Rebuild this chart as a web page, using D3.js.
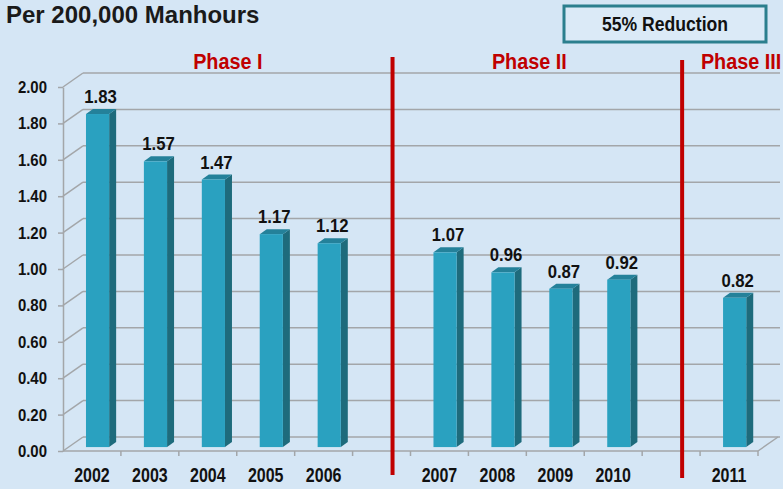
<!DOCTYPE html>
<html>
<head>
<meta charset="utf-8">
<script src="https://cdn.jsdelivr.net/npm/d3@7"></script>
<style>
  body { margin: 0; background: #d5e6f5; }
  svg { display: block; }
  .wide { font-family: "Liberation Sans", Arial, sans-serif; font-weight: bold; }
</style>
</head>
<body>
<div id="chart"></div>
<script>
// categories incl. two empty slots that separate the phases
const categories = ["2002", "2003", "2004", "2005", "2006", "gap1", "2007", "2008", "2009", "2010", "gap2", "2011"];
const values = [1.83, 1.57, 1.47, 1.17, 1.12, null, 1.07, 0.96, 0.87, 0.92, null, 0.82];
const yTicks = [0, 0.2, 0.4, 0.6, 0.8, 1.0, 1.2, 1.4, 1.6, 1.8, 2.0];
const phases = ["Phase I", "Phase II", "Phase III"];
const phaseSpans = [["2002", "2006"], ["2007", "2010"], ["2011", "2011"]];
const dividers = ["gap1", "gap2"];

const WIDTH = 783, HEIGHT = 489;
const DEPTH = { DX: 20, DY: -14 };
// no condensed font installed, so squeeze the bold sans horizontally
const NARROW = 0.8;

const svg = d3.select("#chart").append("svg")
  .attr("width", WIDTH)
  .attr("height", HEIGHT);

svg.append("rect").attr("width", WIDTH).attr("height", HEIGHT).attr("fill", "#d5e6f5");

const x = d3.scaleBand().domain(categories).range([63, 758]).padding(0);
const y = d3.scaleLinear().domain([0, 2]).range([451, 87]);

// back wall gridlines + diagonals to the front axis
const grid = svg.append("g").attr("stroke", "#a3a6a9").attr("stroke-width", 1.5).attr("fill", "none");
yTicks.forEach(t => {
  grid.append("line")
    .attr("x1", 63 + DEPTH.DX).attr("x2", 780)
    .attr("y1", y(t) + DEPTH.DY).attr("y2", y(t) + DEPTH.DY);
  grid.append("line")
    .attr("x1", 63).attr("x2", 63 + DEPTH.DX)
    .attr("y1", y(t)).attr("y2", y(t) + DEPTH.DY);
});

// floor front edge with ticks at slot boundaries
const x0 = x.range()[0], x1 = x.range()[1];
grid.append("line").attr("x1", x0).attr("x2", x1).attr("y1", y(0)).attr("y2", y(0));
grid.append("line").attr("x1", x1).attr("x2", x1 + DEPTH.DX).attr("y1", y(0)).attr("y2", y(0) + DEPTH.DY);
categories.forEach(c => {
  grid.append("line").attr("x1", x(c) + x.bandwidth()).attr("x2", x(c) + x.bandwidth())
    .attr("y1", y(0)).attr("y2", y(0) + 5);
});

// front y axis
const yAxis = svg.append("g")
  .attr("transform", "translate(63,0)")
  .call(d3.axisLeft(y).tickValues(yTicks).tickFormat(d3.format(".2f")).tickSize(5).tickSizeOuter(0).tickPadding(10));
yAxis.selectAll("path, line").attr("stroke", "#a3a6a9").attr("stroke-width", 1.5);
yAxis.selectAll("text").attr("class", "wide").attr("font-size", 17).attr("fill", "#111")
  .attr("x", null).attr("transform", "translate(-16,0) scale(0.88,1)");

// x labels
const xAxis = svg.append("g")
  .attr("transform", `translate(0,${y(0)})`)
  .call(d3.axisBottom(x).tickSize(0).tickPadding(0).tickFormat(d => d.startsWith("gap") ? "" : d));
xAxis.select(".domain").remove();
xAxis.selectAll("text").attr("class", "wide").attr("font-size", 20).attr("fill", "#111")
  .attr("dy", null).attr("y", 31).attr("transform", `scale(${NARROW},1)`);

// 3D bars
const F0 = 0.28, BAR_W = x.bandwidth() * 0.4, SIDE = { DX: 7, DY: -5 };
const barData = categories.map((c, i) => ({ c, v: values[i] })).filter(d => d.v !== null);
const bars = svg.append("g").selectAll("g").data(barData).join("g");

const fx = d => x(d.c) + x.bandwidth() / 2 - BAR_W / 2 + F0 * DEPTH.DX;
const fTop = d => y(d.v) + F0 * DEPTH.DY;
const fBot = () => y(0) + F0 * DEPTH.DY;

bars.append("polygon")
  .attr("fill", "#1e6b7c")
  .attr("points", d => {
    const a = fx(d) + BAR_W;
    return [[a, fTop(d)], [a + SIDE.DX, fTop(d) + SIDE.DY], [a + SIDE.DX, fBot() + SIDE.DY], [a, fBot()]].join(" ");
  });
bars.append("polygon")
  .attr("fill", "#24819a")
  .attr("points", d => {
    const a = fx(d), t = fTop(d);
    return [[a, t], [a + SIDE.DX, t + SIDE.DY], [a + BAR_W + SIDE.DX, t + SIDE.DY], [a + BAR_W, t]].join(" ");
  });
bars.append("rect")
  .attr("fill", "#2aa1c0")
  .attr("x", fx)
  .attr("y", fTop)
  .attr("width", BAR_W)
  .attr("height", d => fBot() - fTop(d));

bars.append("text")
  .attr("class", "wide")
  .attr("font-size", 19)
  .attr("fill", "#111")
  .attr("text-anchor", "middle")
  .attr("transform", d => `translate(${fx(d) + BAR_W / 2 + 3},${fTop(d) + SIDE.DY - 6}) scale(0.88,1)`)
  .text(d => d.v.toFixed(2));

// phase dividers
const divTop = [57, 60], divBot = [475, 478];
svg.append("g").selectAll("line").data(dividers).join("line")
  .attr("stroke", "#c00000").attr("stroke-width", 4)
  .attr("x1", d => x(d) + x.bandwidth() / 2 + 11)
  .attr("x2", d => x(d) + x.bandwidth() / 2 + 11)
  .attr("y1", (d, i) => divTop[i])
  .attr("y2", (d, i) => divBot[i]);

// phase titles
const phaseDx = [20, 3, 12];
svg.append("g").selectAll("text").data(phases).join("text")
  .attr("class", "wide")
  .attr("font-size", 22.5)
  .attr("fill", "#c00000")
  .attr("text-anchor", "middle")
  .attr("transform", (d, i) => {
    const cx = (x(phaseSpans[i][0]) + x(phaseSpans[i][1]) + x.bandwidth()) / 2 + phaseDx[i];
    return `translate(${cx},69) scale(0.88,1)`;
  })
  .text(d => d);

// heading
svg.append("text")
  .attr("class", "wide")
  .attr("font-size", 24)
  .attr("fill", "#1a1a1a")
  .attr("x", 6).attr("y", 23)
  .text("Per 200,000 Manhours");

// reduction box
svg.append("rect")
  .attr("x", 564).attr("y", 6).attr("width", 202).attr("height", 36)
  .attr("fill", "#dbeaf7").attr("stroke", "#2b7f8e").attr("stroke-width", 3);
svg.append("text")
  .attr("class", "wide")
  .attr("font-size", 20)
  .attr("fill", "#111")
  .attr("text-anchor", "middle")
  .attr("transform", "translate(665,31) scale(0.88,1)")
  .text("55% Reduction");
</script>
</body>
</html>
